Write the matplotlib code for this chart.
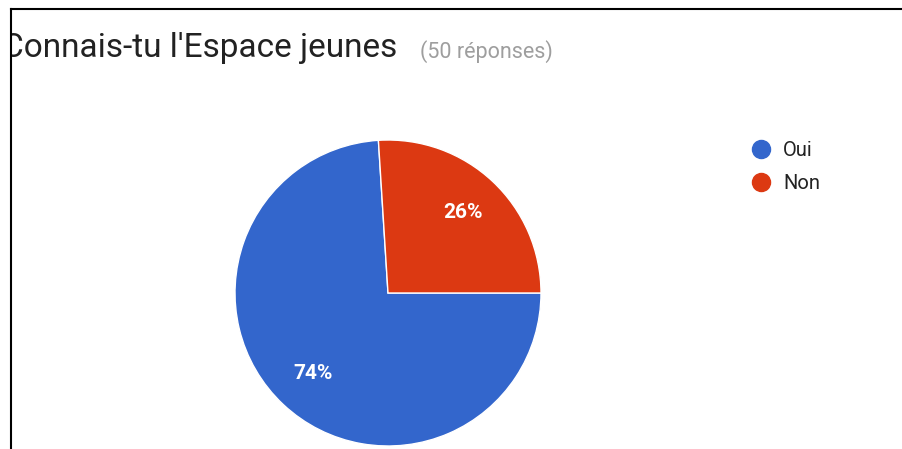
import matplotlib
matplotlib.use("Agg")
import matplotlib.pyplot as plt
from matplotlib.lines import Line2D
from matplotlib.patches import Rectangle

plt.rcParams['font.family'] = ['Roboto', 'DejaVu Sans']

#----Data----
categories = ["Oui", "Non"]
values = [74, 26]
colors = ["#3366cc", "#dc3912"]
title = "Connais-tu l'Espace jeunes"
subtitle = "(50 réponses)"

W, H = 903, 449
fig = plt.figure(figsize=(W / 100, H / 100), dpi=100)
fig.patch.set_facecolor("white")

#----Pie axes: center (388, 293) px, radius 153 px----
cx, cy, r = 388, 293, 153
pad = 1.1
half = r * pad
ax = fig.add_axes([(cx - half) / W, (H - cy - half) / H, 2 * half / W, 2 * half / H])
wedges, texts, autotexts = ax.pie(
    values, colors=colors, startangle=0, counterclock=False,
    autopct=lambda p: "%d%%" % round(p), pctdistance=0.72,
    wedgeprops=dict(edgecolor="white", linewidth=1),
    textprops=dict(color="white", fontsize=15, fontweight="bold"))
ax.set_xlim(-pad, pad)
ax.set_ylim(-pad, pad)
ax.set_aspect("equal")

#----Title (first letter clipped by the screenshot border)----
fig.text(397 / W, 1 - 57 / H, title, fontsize=24, color="#222222", va="baseline", ha="right")
fig.text(420 / W, 1 - 58 / H, subtitle, fontsize=15.5, color="#9e9e9e", va="baseline", ha="left")

#----Legend----
handles = [Line2D([], [], marker="o", linestyle="none", markersize=13,
                  markerfacecolor=c, markeredgecolor=c) for c in colors]
fig.legend(handles, categories, loc="upper left", bbox_to_anchor=(751 / W, 1 - 141 / H),
           frameon=False, fontsize=14.5, handletextpad=0.6, labelspacing=0.7,
           handlelength=1.0, borderaxespad=0, borderpad=0, labelcolor="#222222")

#----Screenshot border----
fig.add_artist(Rectangle((0, 0), 11 / W, 1, transform=fig.transFigure,
                         facecolor="white", edgecolor="none", zorder=5))
fig.add_artist(Rectangle((0, 1 - 8 / H), 1, 8 / H, transform=fig.transFigure,
                         facecolor="white", edgecolor="none", zorder=5))
fig.add_artist(Line2D([11 / W, 1], [1 - 9 / H, 1 - 9 / H], transform=fig.transFigure,
                      color="black", linewidth=1.5, zorder=6))
fig.add_artist(Line2D([11 / W, 11 / W], [0, 1 - 9 / H], transform=fig.transFigure,
                      color="black", linewidth=1.5, zorder=6))

fig.savefig("out.png", dpi=100)
